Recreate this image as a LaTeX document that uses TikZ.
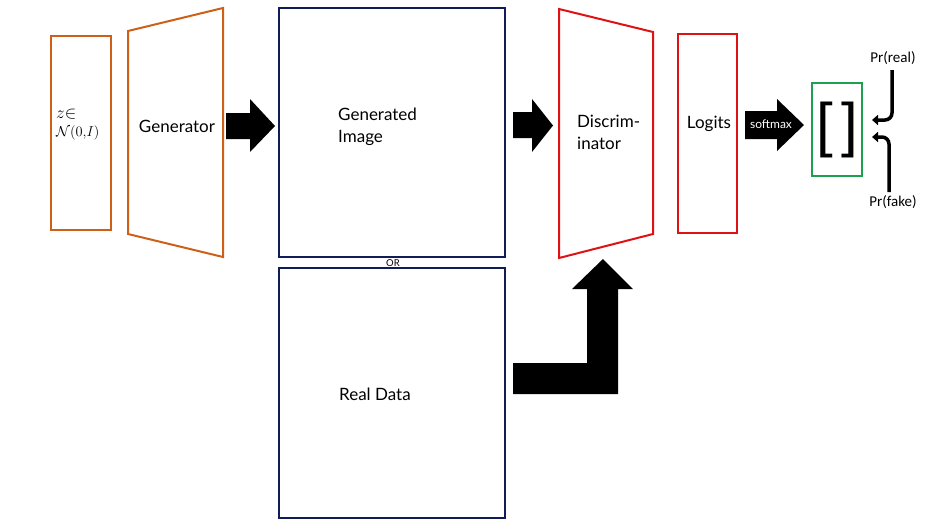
\documentclass[tikz,border=0pt]{standalone}
\usepackage{fontspec}
\setmainfont{Lato}
\newfontfamily\calib{Carlito}
\newfontfamily\brk{Liberation Sans}
\usetikzlibrary{arrows.meta}
\definecolor{gorange}{RGB}{205,95,25}
\definecolor{gnavy}{RGB}{16,28,88}
\definecolor{gred}{RGB}{222,18,18}
\definecolor{ggreen}{RGB}{30,160,80}
\tikzset{
  lbl/.style={font=\fontsize{17}{22}\selectfont, inner sep=0pt, align=left},
  obox/.style={draw=gorange, line width=2pt},
  nbox/.style={draw=gnavy, line width=2pt},
  rbox/.style={draw=gred, line width=2pt},
  blockarrow/.style={fill=black},
  prarrow/.style={line width=3.5pt, rounded corners=7pt, -{Triangle[length=6pt,width=10pt]}},
  prlbl/.style={font=\calib\fontsize{15}{16}\selectfont, inner sep=0pt},
}
\begin{document}
\begin{tikzpicture}[x=1pt,y=-1pt]
\useasboundingbox (0,0) rectangle (930,528);
% z box
\draw[obox] (51,36) rectangle (111,230);
\node[lbl, anchor=west, font=\fontsize{17}{19}\selectfont] (z) at (56,125) {$z{\in}$\\[-1pt]{\fontsize{14}{14}\selectfont$\mathcal{N}(0{,}I)$}};
% generator
\draw[obox] (128,31) -- (223,8) -- (223,257) -- (128,234) -- cycle;
\node[lbl] (gen) at (177,126) {Generator};
% arrow 1
\fill[blockarrow] (226,113) -- (250,113) -- (250,99) -- (275,126) -- (250,152) -- (250,139) -- (226,139) -- cycle;
% generated image
\draw[nbox] (279,8) rectangle (505,257);
\node[lbl, anchor=west] (gi) at (338,127) {Generated\\Image};
\node[inner sep=0pt, font=\fontsize{9.5}{10}\selectfont] (or) at (393,263.5) {OR};
% real data
\draw[nbox] (279,268) rectangle (505,518);
\node[lbl, anchor=west] (rd) at (339,394) {Real Data};
% arrow 2
\fill[blockarrow] (513,112) -- (532,112) -- (532,99) -- (553,125.5) -- (532,152) -- (532,138) -- (513,138) -- cycle;
% bent arrow
\fill[blockarrow] (513,394) -- (618,394) -- (618,289) -- (633,289) -- (603,259) -- (572,289) -- (587,289) -- (587,363) -- (513,363) -- cycle;
% discriminator
\draw[rbox] (559,9) -- (653,32) -- (653,234) -- (559,258) -- cycle;
\node[lbl, anchor=west] (disc) at (577,132) {Discrim-\\inator};
% logits
\draw[rbox] (678,34) rectangle (737,233);
\node[lbl] (log) at (709,124) {Logits};
% softmax arrow
\fill[blockarrow] (745,111) -- (777,111) -- (777,99) -- (804,125) -- (777,151) -- (777,139) -- (745,139) -- cycle;
\node[inner sep=0pt, text=white, font=\fontsize{12}{12}\selectfont] (sm) at (771,124) {softmax};
% output box
\draw[draw=ggreen, line width=2pt] (812,83) rectangle (862,176);
\node[inner sep=0pt, font=\brk\fontsize{60}{60}\selectfont] (br) at (837.5,130) {[\hspace{8pt}]};
% probabilities
\node[prlbl] (pr) at (893,58) {Pr(real)};
\node[prlbl] (pf) at (893,202) {Pr(fake)};
\coordinate (rtip) at (872,120);
\coordinate (ftip) at (872,137);
\draw[prarrow] (892,70) |- (rtip);
\draw[prarrow] (889,192) |- (ftip);
\end{tikzpicture}
\end{document}
